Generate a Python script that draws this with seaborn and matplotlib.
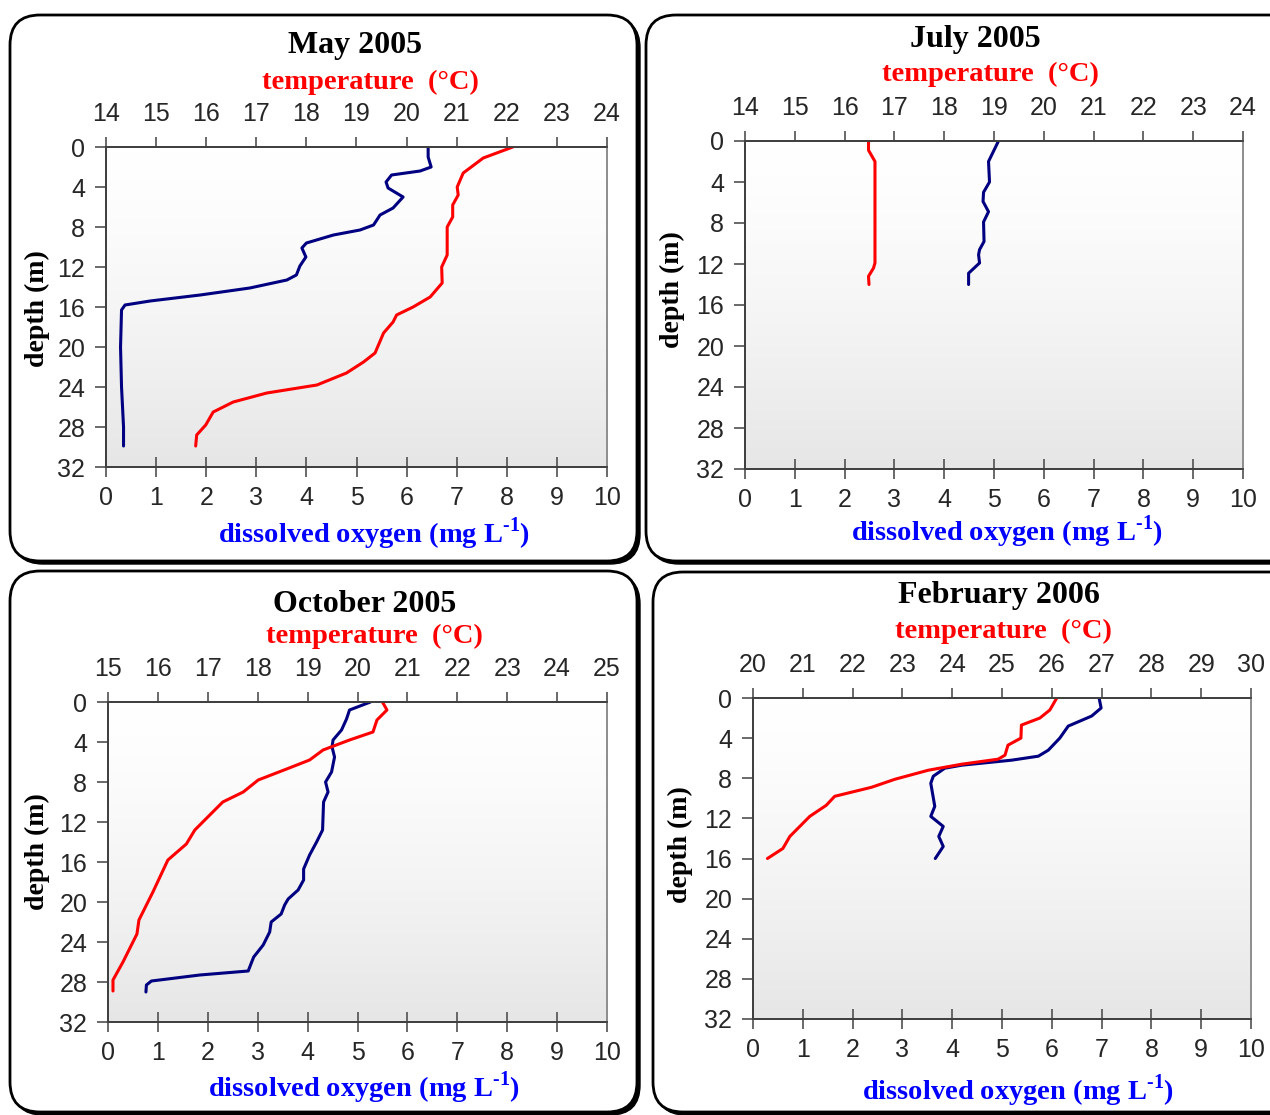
import numpy as np
import matplotlib
matplotlib.use("Agg")
import matplotlib.pyplot as plt
import seaborn as sns
from matplotlib.patches import FancyBboxPatch
from matplotlib.colors import LinearSegmentedColormap

# ---- data (depth in m) ----
# May 2005
may_do_depth = [0, 1.0, 2.0, 2.4, 2.8, 3.5, 4.1, 5.0, 6.1, 6.8, 7.8, 8.3, 8.8, 9.6, 10.1,
                11.0, 11.9, 12.8, 13.3, 14.1, 14.8, 15.4, 15.8, 16.3, 20.0, 24.0, 28.0, 29.9]
may_do = [6.43, 6.43, 6.49, 6.27, 5.70, 5.59, 5.63, 5.93, 5.73, 5.47, 5.34, 5.07, 4.54, 4.00, 3.91,
          3.99, 3.87, 3.80, 3.61, 2.87, 1.88, 0.88, 0.38, 0.31, 0.29, 0.31, 0.35, 0.35]
may_t_depth = [0, 1.1, 2.6, 4.0, 4.8, 5.8, 7.0, 8.0, 10.8, 12.0, 13.6, 15.0, 16.0, 16.8, 17.5,
               18.6, 20.6, 21.5, 22.6, 23.8, 24.6, 25.5, 26.5, 27.8, 28.8, 29.9]
may_temp = [22.12, 21.53, 21.13, 21.01, 21.03, 20.92, 20.92, 20.81, 20.81, 20.70, 20.71, 20.47, 20.13,
            19.80, 19.73, 19.54, 19.37, 19.14, 18.80, 18.21, 17.21, 16.54, 16.14, 15.99, 15.81, 15.79]

# July 2005
jul_do_depth = [0, 2.0, 4.0, 5.0, 5.9, 6.9, 7.9, 9.8, 10.6, 11.1, 11.9, 12.9, 14.0]
jul_do = [5.09, 4.89, 4.91, 4.79, 4.78, 4.89, 4.79, 4.80, 4.71, 4.69, 4.71, 4.49, 4.49]
jul_t_depth = [0, 0.9, 2.0, 11.9, 12.4, 13.2, 14.0]
jul_temp = [16.48, 16.48, 16.61, 16.61, 16.58, 16.48, 16.49]

# October 2005
oct_do_depth = [0, 0.8, 1.7, 2.8, 3.8, 4.5, 5.5, 7.0, 8.0, 9.0, 10.0, 12.8, 14.0, 15.3, 16.7, 17.8,
                18.8, 19.7, 20.3, 21.2, 22.0, 23.0, 24.3, 25.5, 26.0, 26.9, 27.3, 27.9, 28.3, 29.0]
oct_do = [5.26, 4.84, 4.78, 4.68, 4.51, 4.49, 4.54, 4.48, 4.36, 4.41, 4.32, 4.30, 4.18, 4.04, 3.92, 3.92,
          3.81, 3.61, 3.54, 3.47, 3.27, 3.24, 3.11, 2.92, 2.88, 2.81, 1.84, 0.87, 0.77, 0.76]
oct_t_depth = [0, 0.8, 1.8, 3.0, 3.8, 4.8, 5.8, 6.7, 7.8, 9.0, 10.0, 10.8, 12.8, 14.2, 15.8, 19.0,
               21.8, 23.2, 26.0, 27.8, 28.9]
oct_temp = [20.50, 20.59, 20.39, 20.31, 19.84, 19.31, 19.04, 18.58, 18.01, 17.71, 17.30, 17.14, 16.74,
            16.57, 16.20, 15.90, 15.62, 15.58, 15.30, 15.10, 15.10]

# February 2006
feb_do_depth = [0, 1.0, 1.8, 2.8, 4.0, 5.2, 5.8, 6.2, 6.7, 7.0, 7.8, 8.5, 10.8, 11.8, 12.8, 13.8, 14.8, 16.0]
feb_do = [6.95, 6.99, 6.80, 6.33, 6.16, 5.93, 5.73, 5.19, 4.19, 3.85, 3.62, 3.57, 3.65, 3.57, 3.82,
          3.73, 3.82, 3.66]
feb_t_depth = [0, 1.2, 2.0, 2.7, 4.0, 4.7, 5.7, 6.1, 6.6, 7.2, 8.1, 8.9, 9.8, 10.7, 11.8, 13.8, 15.0, 16.0]
feb_temp = [26.10, 25.96, 25.76, 25.39, 25.38, 25.12, 25.06, 24.92, 24.19, 23.52, 22.85, 22.38, 21.64,
            21.47, 21.14, 20.74, 20.60, 20.29]

do_ticks = list(range(0, 11))
depth_ticks = list(range(0, 33, 4))

sns.set_style("ticks")
plt.rcParams['font.family'] = ['Liberation Sans', 'DejaVu Sans']
plt.rcParams['mathtext.fontset'] = 'custom'
plt.rcParams['mathtext.rm'] = 'Liberation Serif:bold'
plt.rcParams['mathtext.bf'] = 'Liberation Serif:bold'

W, H = 1270, 1115
fig = plt.figure(figsize=(W / 100, H / 100), dpi=100)

BLUE = '#000080'
RED = '#ff0000'
SERIF = dict(family='Liberation Serif', weight='bold')
grad_cmap = LinearSegmentedColormap.from_list('bg', ['#ffffff', '#e6e6e6'])


def ftext(x, y, s, **kw):
    fig.text(x / W, 1 - y / H, s, ha='center', va='center', **kw)


def frame(x0, y0, x1, y1):
    # rounded panel with a drop shadow, pixel coords from top-left
    inch = lambda v: v / 100
    kw = dict(boxstyle='round,pad=0,rounding_size=0.3', transform=fig.dpi_scale_trans)
    shadow = FancyBboxPatch((inch(x0 + 3), inch(H - y1 - 3)), inch(x1 - x0), inch(y1 - y0),
                            facecolor='black', edgecolor='black', lw=1, zorder=-3, **kw)
    box = FancyBboxPatch((inch(x0), inch(H - y1)), inch(x1 - x0), inch(y1 - y0),
                         facecolor='white', edgecolor='black', lw=2, zorder=-2, **kw)
    fig.add_artist(shadow)
    fig.add_artist(box)


panels = [
    dict(title='May 2005', do_d=may_do_depth, do=may_do, t_d=may_t_depth, t=may_temp, tmin=14,
         frame=(10, 15, 637, 561), ax=(106, 147, 607, 467),
         title_xy=(355, 45), temp_xy=(370, 82), depth_xy=(37, 309), do_xy=(374, 534)),
    dict(title='July 2005', do_d=jul_do_depth, do=jul_do, t_d=jul_t_depth, t=jul_temp, tmin=14,
         frame=(646, 15, 1300, 561), ax=(745, 141, 1243, 469),
         title_xy=(975, 40), temp_xy=(990, 74), depth_xy=(672, 290), do_xy=(1007, 532)),
    dict(title='October 2005', do_d=oct_do_depth, do=oct_do, t_d=oct_t_depth, t=oct_temp, tmin=15,
         frame=(10, 571, 637, 1112), ax=(108, 702, 607, 1022),
         title_xy=(365, 604), temp_xy=(374, 636), depth_xy=(37, 852), do_xy=(364, 1088)),
    dict(title='February 2006', do_d=feb_do_depth, do=feb_do, t_d=feb_t_depth, t=feb_temp, tmin=20,
         frame=(653, 572, 1300, 1112), ax=(753, 698, 1251, 1019),
         title_xy=(999, 595), temp_xy=(1003, 631), depth_xy=(680, 845), do_xy=(1018, 1091)),
]

for p in panels:
    frame(*p['frame'])
    l, t, r, b = p['ax']
    ax = fig.add_axes([l / W, 1 - b / H, (r - l) / W, (b - t) / H])
    ax.imshow(np.linspace(0, 1, 256).reshape(-1, 1) ** 1.4, extent=(0, 10, 32, 0), aspect='auto',
              cmap=grad_cmap, vmin=0, vmax=1, origin='upper', zorder=0)
    sns.lineplot(x=p['do'], y=p['do_d'], sort=False, estimator=None, color=BLUE, lw=2.2, ax=ax,
                 solid_joinstyle='round')
    ax.set_xlim(0, 10)
    ax.set_ylim(32, 0)
    ax.set_xticks(do_ticks)
    ax.set_yticks(depth_ticks)
    ax.tick_params(axis='x', direction='inout', length=14, width=1.2, pad=7, labelsize=18,
                   color='#505050')
    ax.tick_params(axis='y', direction='out', length=8, width=1.2, pad=7, labelsize=18,
                   color='#505050')

    tw = ax.twiny()
    sns.lineplot(x=p['t'], y=p['t_d'], sort=False, estimator=None, color=RED, lw=2.2, ax=tw,
                 solid_joinstyle='round')
    tw.set_xlim(p['tmin'], p['tmin'] + 10)
    tw.set_xticks(range(p['tmin'], p['tmin'] + 11))
    tw.set_ylim(32, 0)
    tw.tick_params(axis='x', direction='out', length=7, width=1.2, pad=8, labelsize=18,
                   color='#505050')
    for a in (ax, tw):
        a.set_xlabel('')
        a.set_ylabel('')
        for name, s in a.spines.items():
            s.set_linewidth(1.3)
            s.set_color('#909090' if name == 'right' else '#404040')

    ftext(*p['title_xy'], p['title'], fontsize=23, color='black', **SERIF)
    ftext(*p['temp_xy'], 'temperature  (°C)', fontsize=20.5, color=RED, **SERIF)
    ftext(*p['depth_xy'], 'depth (m)', fontsize=20, rotation=90, color='black', **SERIF)
    ftext(*p['do_xy'], r'dissolved oxygen (mg L$^{\text{-1}}$)', fontsize=20.5, color='#0000ff',
          **SERIF)

fig.savefig('out.png', dpi=100)
